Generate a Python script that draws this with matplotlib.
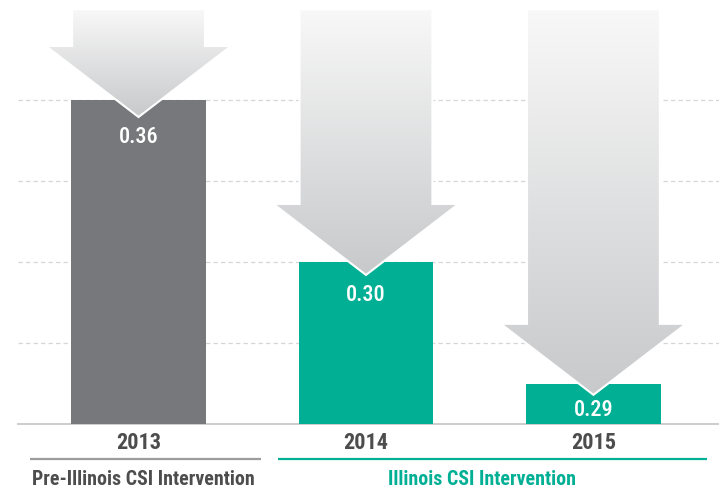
import numpy as np
import matplotlib
matplotlib.use("Agg")
import matplotlib.pyplot as plt
from matplotlib.patches import Polygon
from matplotlib.colors import LinearSegmentedColormap

# =============================
# DATA
# =============================
years = ["2013", "2014", "2015"]
values = [0.36, 0.30, 0.29]
# bar heights as drawn in the picture (in gridline steps)
bar_heights = [4.0, 2.0, 0.5]
groups = ["Pre-Illinois CSI Intervention", "Illinois CSI Intervention"]

GRAY = "#77787b"
TEAL = "#00af94"
bar_colors = [GRAY, TEAL, TEAL]

plt.rcParams['font.family'] = ['Roboto Condensed', 'DejaVu Sans']

fig = plt.figure(figsize=(7.19, 4.89), dpi=100)
ax = fig.add_axes([0, 0, 1, 1])
ax.set_xlim(-0.609, 2.552)
ax.set_ylim(-0.79, 5.247)
ax.axis('off')

x = np.arange(len(years))
bw = 0.593

# gridlines + baseline
for g in [1, 2, 3, 4]:
    ax.plot([-0.53, 2.552], [g, g], color="#d6d6d6", lw=0.9,
            linestyle=(0, (3.5, 2.5)), zorder=1)
ax.plot([-0.53, 2.552], [0, 0], color="#c4c4c4", lw=1.2, zorder=1)

# bars
ax.bar(x, bar_heights, width=bw, color=bar_colors, zorder=2)

# arrows with vertical gradient
cmap = LinearSegmentedColormap.from_list("arr", ["#c8c9cb", "#f8f8f8"])
arrow_top = 5.12
head_len = 0.877
head_half = 0.407
shaft_half = 0.292
tip_offsets = [0.21, 0.16, 0.14]
for xi, h, off in zip(x, bar_heights, tip_offsets):
    tip = h - off
    hs = tip + head_len
    pts = [(xi - shaft_half, arrow_top), (xi + shaft_half, arrow_top),
           (xi + shaft_half, hs), (xi + head_half, hs), (xi, tip),
           (xi - head_half, hs), (xi - shaft_half, hs)]
    poly = Polygon(pts, closed=True, facecolor="none", edgecolor="white",
                   lw=1.5, zorder=4)
    ax.add_patch(poly)
    grad = np.linspace(0, 1, 256).reshape(-1, 1)
    im = ax.imshow(grad, cmap=cmap, origin="lower", aspect="auto",
                   extent=[xi - head_half, xi + head_half, tip, arrow_top],
                   zorder=3, interpolation="bilinear")
    im.set_clip_path(poly)

# value labels
label_y = [3.556, 1.605, 0.185]
for xi, ly, v in zip(x, label_y, values):
    ax.text(xi, ly, f"{v:.2f}", color="white", ha="center",
            va="center", fontsize=16, fontweight="medium", zorder=5)

# year labels
for xi, yr in zip(x, years):
    ax.text(xi, -0.222, yr, color="#4d4d4d", ha="center", va="center",
            fontsize=16, fontweight="bold")

# group underlines and labels
ax.plot([-0.477, 0.538], [-0.432, -0.432], color="#9c9c9c", lw=1.6,
        solid_capstyle="butt", clip_on=False)
ax.plot([0.613, 2.499], [-0.432, -0.432], color=TEAL, lw=1.6,
        solid_capstyle="butt", clip_on=False)
ax.text(0.02, -0.667, groups[0], color="#4d4d4d", ha="center", va="center",
        fontsize=14.3, fontweight="bold")
ax.text(1.512, -0.667, groups[1], color=TEAL, ha="center", va="center",
        fontsize=14.3, fontweight="bold")

fig.savefig("out.png", dpi=100)
